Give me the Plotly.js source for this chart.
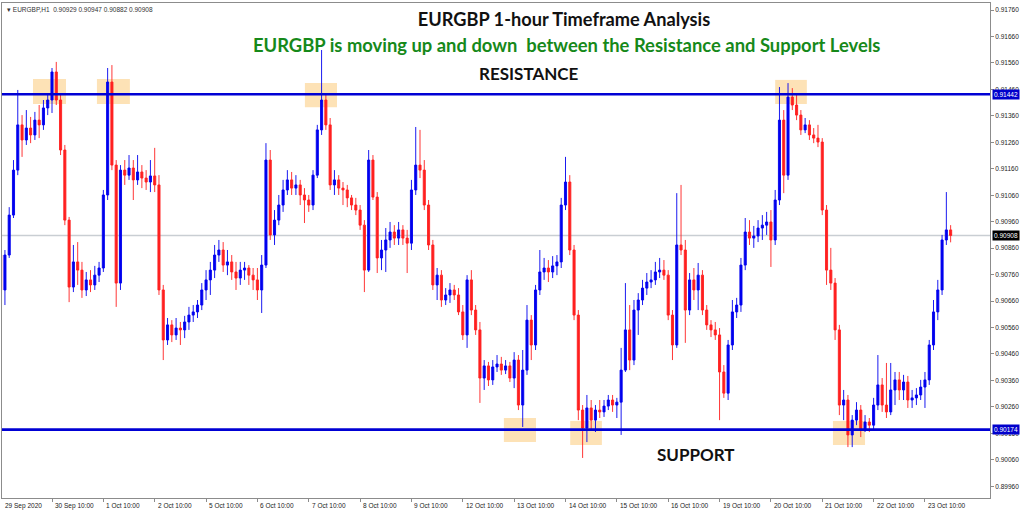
<!DOCTYPE html>
<html>
<head>
<meta charset="utf-8">
<script src="https://cdn.plot.ly/plotly-3.0.1.min.js"></script>
<style>
html,body{margin:0;padding:0;background:#ffffff;}
#chart{width:1024px;height:511px;}
</style>
</head>
<body>
<div id="chart"></div>
<script>
// EURGBP, prices in points (1 point = 0.00001), one candle per 2 hours,
// first candle 29 Sep 2020 10:00, 12 candles per trading day.
const openPts = [
90834,90702,90834,90985,91155,91326,91269,91314,91288,91344,91326,91390,
91420,91526,91420,91231,90966,90713,90808,90777,90702,90740,90721,90758,
90785,91061,91488,91174,90728,91155,91136,91163,91118,91148,91125,91110,
91133,91099,90702,90513,90570,90532,90558,90551,90581,90607,90619,90645,
90702,90740,90777,90834,90853,90796,90808,90770,90747,90777,90785,90758,
90740,90702,90796,91193,90910,90966,91023,91080,91118,91087,91099,91061,
91042,91023,91136,91307,91420,91326,91099,91118,91087,91080,91050,91023,
91004,90947,90777,91193,91053,90823,90853,90891,90921,90898,90929,90898,
90879,91080,91174,91155,91023,90872,90721,90758,90664,90683,90702,90683,
90619,90532,90740,90626,90551,90369,90415,90362,90411,90422,90399,90415,
90369,90437,90267,90399,90588,90494,90702,90770,90785,90770,90793,90808,
91023,91110,90853,90607,90248,90180,90256,90210,90248,90241,90263,90286,
90267,90278,90399,90551,90437,90626,90664,90709,90732,90740,90770,90777,
90758,90607,90494,90872,90853,90626,90740,90702,90758,90626,90570,90551,
90532,90392,90312,90494,90619,90645,90796,90921,90898,90906,90936,90947,
90959,90891,91042,91344,91136,91431,91401,91363,91307,91326,91288,91276,
91261,91004,90777,90728,90551,90267,90286,90154,90210,90248,90173,90203,
90191,90267,90343,90267,90241,90324,90362,90324,90354,90286,90294,90305,
90335,90362,90494,90619,90702,90891,90929
];
const highPts = [
90853,90853,91015,91193,91458,91363,91382,91356,91375,91401,91420,91446,
91541,91564,91439,91250,90978,90872,90883,90808,90770,90777,90793,90808,
91080,91541,91552,91193,91174,91193,91212,91193,91212,91174,91155,91193,
91239,91136,90721,90596,90588,90596,90581,90604,90638,90645,90664,90728,
90777,90808,90872,90891,90883,90853,90834,90808,90808,90808,90796,90785,
90785,90834,91257,91231,91004,91061,91118,91155,91148,91136,91118,91087,
91061,91155,91326,91609,91439,91352,91155,91136,91110,91099,91061,91050,
91023,90966,91231,91212,91072,90891,90936,90959,90947,90959,90947,90929,
91118,91318,91307,91193,91042,90891,90785,90777,90709,90728,90721,90709,
90645,90758,90777,90645,90581,90437,90430,90437,90456,90449,90437,90430,
90467,90456,90475,90645,90607,90721,90853,90823,90815,90830,90834,91050,
91205,91136,90872,90626,90267,90305,90286,90267,90286,90286,90305,90305,
90294,90483,90728,90645,90664,90690,90740,90766,90777,90808,90823,90815,
90777,90626,91068,91099,90891,90766,90785,90804,90777,90645,90588,90581,
90558,90418,90513,90664,90672,90823,90974,90966,90944,90966,90985,90997,
91004,91080,91469,91382,91484,91465,91439,91382,91352,91344,91314,91326,
91276,91023,90861,90747,90570,90324,90305,90229,90278,90267,90229,90218,
90294,90456,90369,90426,90426,90392,90392,90381,90377,90324,90331,90362,
90392,90513,90664,90740,90910,91072,90947
];
const lowPts = [
90664,90645,90823,90974,91136,91205,91250,91257,91269,91276,91307,91363,
91371,91401,91212,90947,90656,90694,90721,90672,90679,90694,90702,90732,
90770,91042,91155,90638,90702,91099,91118,91042,91099,91087,91080,91072,
91072,90683,90437,90494,90505,90513,90494,90520,90551,90581,90596,90626,
90664,90683,90747,90808,90770,90758,90740,90702,90721,90740,90721,90702,
90664,90615,90785,90891,90872,90947,90997,91061,91061,91061,91023,90955,
90997,91004,91125,91288,91307,91080,91061,91061,91023,91015,91004,90985,
90929,90694,90770,91042,90766,90777,90770,90861,90872,90872,90872,90766,
90853,91061,91125,91004,90853,90702,90664,90638,90645,90653,90664,90607,
90513,90483,90607,90532,90275,90324,90339,90343,90392,90381,90384,90354,
90331,90248,90184,90381,90437,90475,90683,90740,90732,90747,90758,90785,
91004,90834,90588,90210,90067,90127,90173,90165,90218,90222,90248,90241,
90218,90154,90392,90399,90418,90532,90645,90683,90709,90721,90747,90740,
90588,90437,90483,90834,90502,90607,90664,90626,90607,90551,90524,90513,
90210,90294,90286,90475,90596,90619,90777,90872,90861,90883,90891,90910,
90789,90872,91023,91068,91118,91382,91344,91288,91295,91269,91257,91242,
90985,90721,90702,90513,90229,90210,90108,90108,90191,90146,90165,90165,
90173,90248,90241,90218,90229,90267,90286,90286,90256,90256,90267,90286,
90256,90343,90475,90588,90683,90872,90882
];
const closePts = [
90702,90834,90985,91155,91326,91269,91314,91288,91344,91326,91390,91420,
91526,91420,91231,90966,90713,90808,90777,90702,90740,90721,90758,90785,
91061,91488,91174,90728,91155,91136,91163,91118,91148,91125,91110,91133,
91099,90702,90513,90570,90532,90558,90551,90581,90607,90619,90645,90702,
90740,90777,90834,90853,90796,90808,90770,90747,90777,90785,90758,90740,
90702,90796,91193,90910,90966,91023,91080,91118,91087,91099,91061,91042,
91023,91136,91307,91420,91326,91099,91118,91087,91080,91050,91023,91004,
90947,90777,91193,91053,90823,90853,90891,90921,90898,90929,90898,90879,
91080,91174,91155,91023,90872,90721,90758,90664,90683,90702,90683,90619,
90532,90740,90626,90551,90369,90415,90362,90411,90422,90399,90415,90369,
90437,90267,90399,90588,90494,90702,90770,90785,90770,90793,90808,91023,
91110,90853,90607,90248,90180,90256,90210,90248,90241,90263,90286,90267,
90278,90399,90551,90437,90626,90664,90709,90732,90740,90770,90777,90758,
90607,90494,90872,90853,90626,90740,90702,90758,90626,90570,90551,90532,
90392,90312,90494,90619,90645,90796,90921,90898,90906,90936,90947,90959,
90891,91042,91344,91136,91431,91401,91363,91307,91326,91288,91276,91261,
91004,90777,90728,90551,90267,90286,90154,90210,90248,90173,90203,90191,
90267,90343,90267,90241,90324,90362,90324,90354,90286,90294,90305,90335,
90362,90494,90619,90702,90891,90929,90908
];
const dateLabels = [
'29 Sep 2020','30 Sep 10:00','1 Oct 10:00','2 Oct 10:00','5 Oct 10:00','6 Oct 10:00',
'7 Oct 10:00','8 Oct 10:00','9 Oct 10:00','12 Oct 10:00','13 Oct 10:00','14 Oct 10:00',
'15 Oct 10:00','16 Oct 10:00','19 Oct 10:00','20 Oct 10:00','21 Oct 10:00','22 Oct 10:00',
'23 Oct 10:00'
];
const resistanceLevel = 0.91442;
const supportLevel = 0.90174;
const symbolName = 'EURGBP,H1';
const titleText = 'EURGBP 1-hour Timeframe Analysis';
const subtitleText = 'EURGBP is moving up and down&nbsp; between the Resistance and Support Levels';

const barsPerDay = 12;
const toPrice = v => v / 100000;
const n = closePts.length;
const xIdx = closePts.map((_, i) => i);
const open = openPts.map(toPrice), high = highPts.map(toPrice),
      low = lowPts.map(toPrice), close = closePts.map(toPrice);
const lastPrice = close[n - 1];
const fmt = v => v.toFixed(5);

const xRange = [0.315, 231.2];
const yRange = [0.899156, 0.917867];

// highlight zones: [start bar, end bar, top, bottom]
const zones = [
  [7.56, 15.27, 0.91499, 0.91405],
  [22.5, 30.2, 0.91499, 0.91405],
  [71.1, 78.6, 0.91484, 0.91393],
  [181.0, 188.4, 0.91496, 0.91405],
  [117.6, 125.1, 0.90218, 0.90127],
  [133.1, 140.5, 0.90207, 0.90116],
  [194.5, 202.0, 0.90207, 0.90116]
];

const shapes = [];
zones.forEach(z => shapes.push({type:'rect', xref:'x', yref:'y', x0:z[0], x1:z[1], y0:z[3], y1:z[2],
  fillcolor:'#fde2b6', line:{width:0}, layer:'below'}));
shapes.push({type:'line', xref:'paper', yref:'y', x0:0, x1:1, y0:lastPrice, y1:lastPrice,
  line:{color:'#c9ced3', width:1.5}, layer:'below'});
[resistanceLevel, supportLevel].forEach(lv => shapes.push({type:'line', xref:'paper', yref:'y',
  x0:0, x1:1, y0:lv, y1:lv, line:{color:'#0000d4', width:2.6}, layer:'above'}));

const smallFont = {family:'Liberation Sans, Arial, sans-serif', size:6.5, color:'#222'};
const annotations = [];
const tickIdx = dateLabels.map((_, k) => k * barsPerDay);
dateLabels.forEach((t, k) => {
  const xi = Math.max(tickIdx[k], xRange[0] + 0.01);
  annotations.push({xref:'x', yref:'paper', x:xi, y:0, xanchor:'left', yanchor:'top',
    yshift:-2, xshift:1, text:t, showarrow:false, font:smallFont});
});
annotations.push({xref:'paper', yref:'paper', x:0, y:1, xanchor:'left', yanchor:'top', xshift:3, yshift:-1,
  text:'\u25BE ' + symbolName + '&nbsp;&nbsp;' + [open[n-1], high[n-1], low[n-1], close[n-1]].map(fmt).join(' '),
  showarrow:false, font:{family:'Liberation Sans, Arial, sans-serif', size:6.5, color:'#333'}});
[[resistanceLevel, '#0000cc'], [supportLevel, '#0000cc'], [lastPrice, '#000000']].forEach(([lv, bg]) => {
  annotations.push({xref:'paper', yref:'y', x:1, y:lv, xanchor:'left', yanchor:'middle', xshift:2,
    text:fmt(lv), showarrow:false, bgcolor:bg, borderpad:1,
    font:{family:'Liberation Sans, Arial, sans-serif', size:6.5, color:'#ffffff'}});
});
const bigFont = (c, s) => ({family:'Lato, "Open Sans", sans-serif', size:s, color:c});
annotations.push({xref:'paper', yref:'paper', x:0.5709, y:0.9152, xanchor:'center', yanchor:'middle',
  text:'<b>' + subtitleText + '</b>', showarrow:false, font:bigFont('#16891a', 18.4)});
annotations.push({xref:'paper', yref:'paper', x:0.5334, y:0.8566, xanchor:'center', yanchor:'middle',
  text:'<b>RESISTANCE</b>', showarrow:false, font:bigFont('#111111', 17)});
annotations.push({xref:'paper', yref:'paper', x:0.7024, y:0.0869, xanchor:'center', yanchor:'middle',
  text:'<b>SUPPORT</b>', showarrow:false, font:bigFont('#111111', 17)});

const trace = {
  type:'candlestick', x:xIdx, open, high, low, close,
  increasing:{line:{color:'#0000ee', width:0.9}, fillcolor:'#0000ee'},
  decreasing:{line:{color:'#ff2020', width:0.9}, fillcolor:'#ff2020'},
  whiskerwidth:0, hoverinfo:'skip', showlegend:false
};

const layout = {
  width:1024, height:511,
  margin:{l:2, r:34, t:3, b:13, pad:0},
  paper_bgcolor:'#ffffff', plot_bgcolor:'#ffffff', showlegend:false,
  title:{text:'<b>' + titleText + '</b>', x:0.5508, xanchor:'center', xref:'container',
         y:0.9609, yanchor:'middle', yref:'container', font:bigFont('#111111', 18.2)},
  xaxis:{range:xRange, showgrid:false, zeroline:false, showline:true, mirror:true,
         linecolor:'#8c8c8c', linewidth:1, ticks:'outside', ticklen:3, tickcolor:'#8c8c8c',
         tickvals:tickIdx, showticklabels:false, rangeslider:{visible:false}, fixedrange:true},
  yaxis:{side:'right', range:yRange, showgrid:false, zeroline:false, showline:true, mirror:true,
         linecolor:'#8c8c8c', linewidth:1, ticks:'outside', ticklen:3, tickcolor:'#8c8c8c',
         tick0:0.8996, dtick:0.001, tickformat:'.5f', tickfont:smallFont, fixedrange:true},
  shapes, annotations
};

Plotly.newPlot('chart', [trace], layout, {displayModeBar:false, staticPlot:true});
</script>
</body>
</html>
